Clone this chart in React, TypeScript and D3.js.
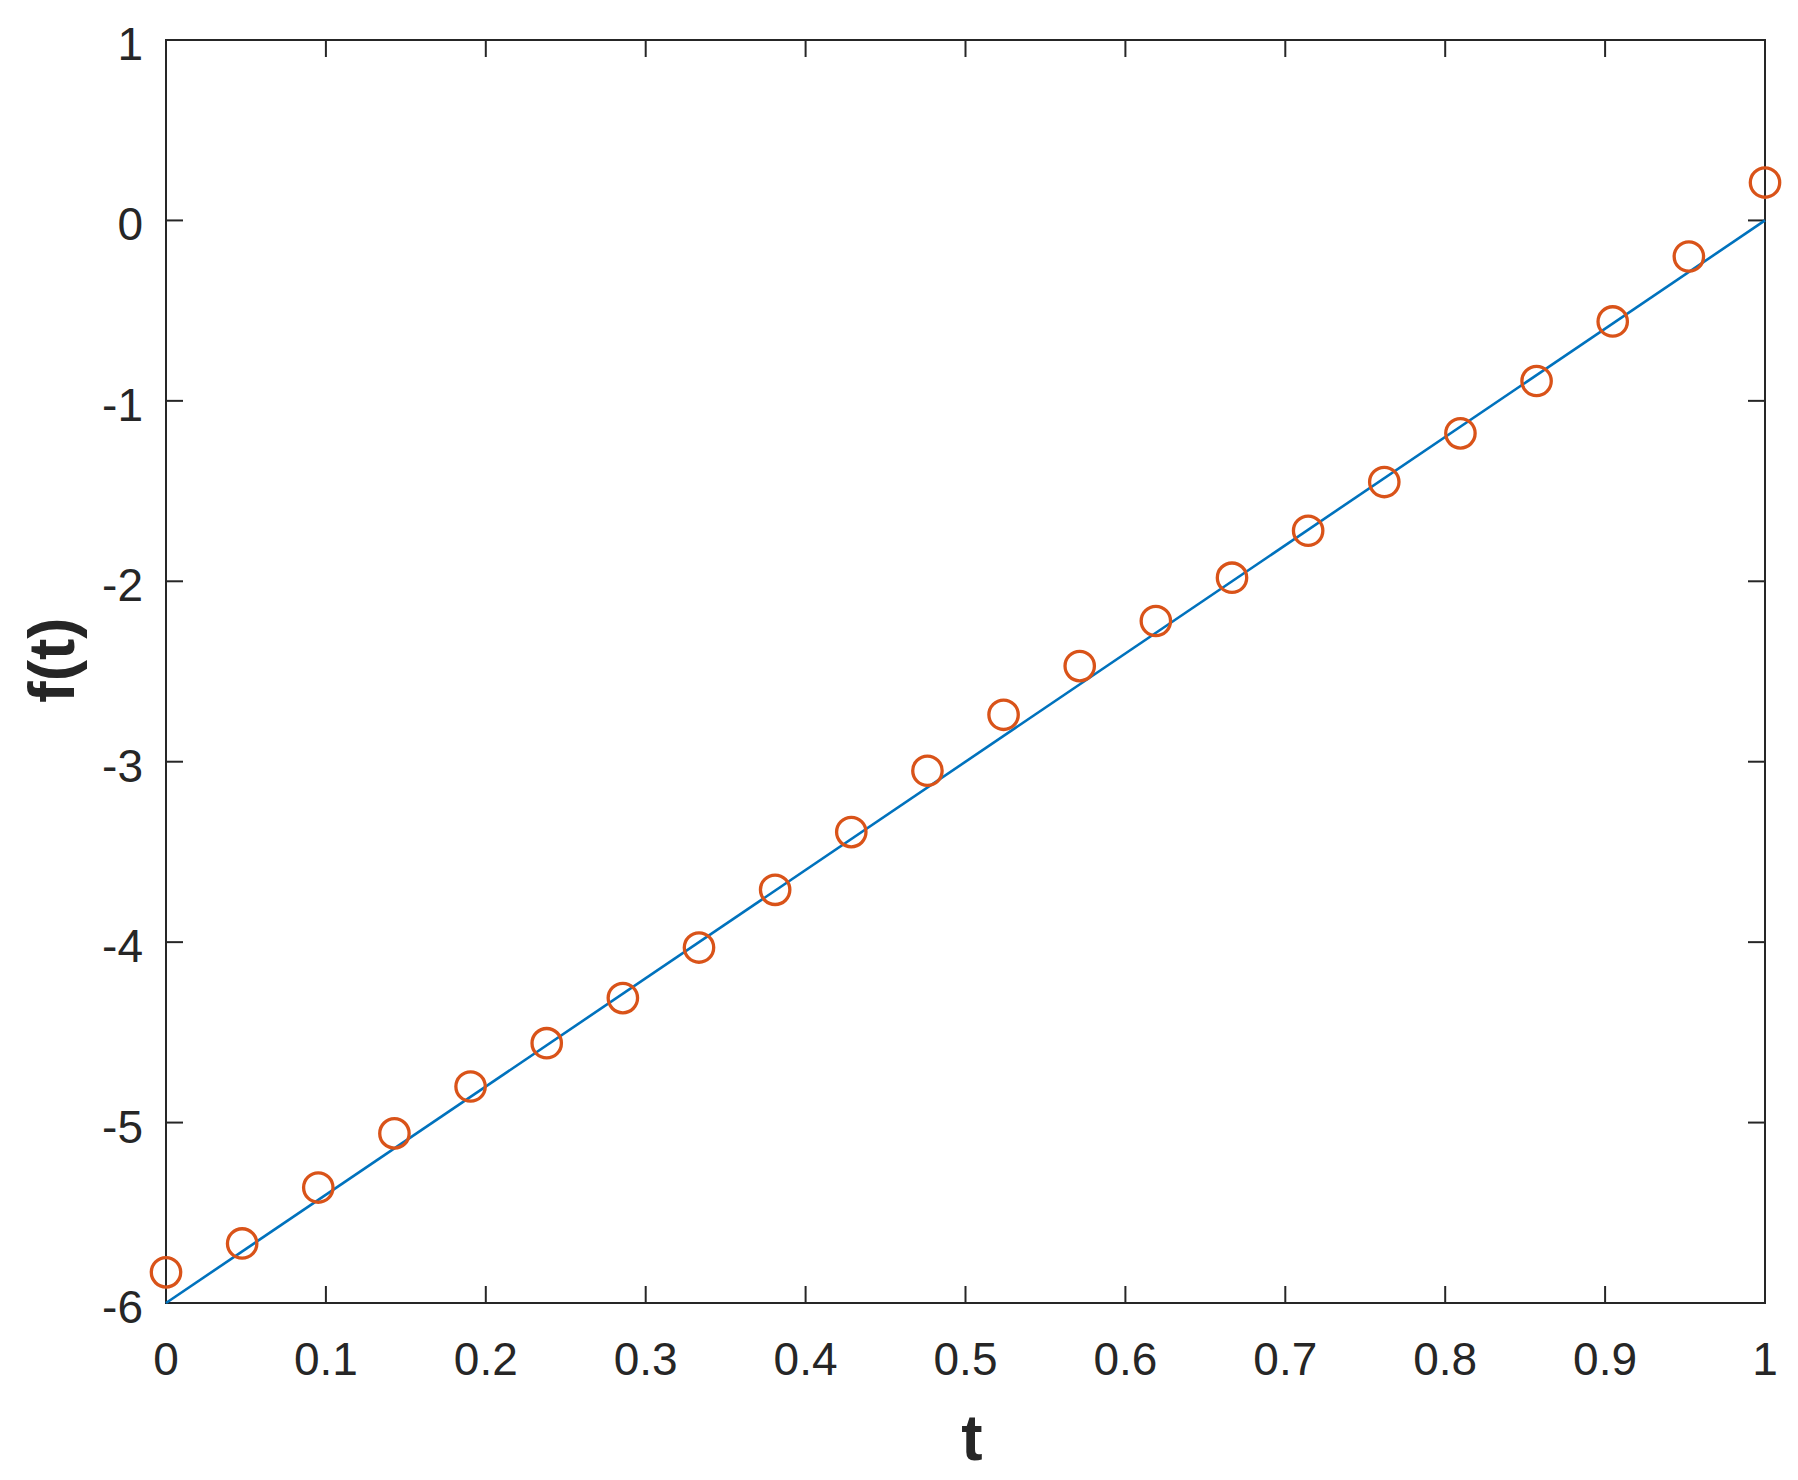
import React from "react";
import * as d3 from "d3";

const sampleT: number[] = d3.range(22).map((i) => i / 21);
const sampleF: number[] = [
  -5.83, -5.67, -5.36, -5.06, -4.8, -4.56, -4.31, -4.03, -3.71, -3.39, -3.05,
  -2.74, -2.47, -2.22, -1.98, -1.72, -1.45, -1.18, -0.89, -0.56, -0.2, 0.21,
];
const lineT: number[] = [0, 1];
const lineF: number[] = [-6, 0];
const xTicks: number[] = [0, 0.1, 0.2, 0.3, 0.4, 0.5, 0.6, 0.7, 0.8, 0.9, 1];
const yTicks: number[] = [1, 0, -1, -2, -3, -4, -5, -6];

const W = 1798;
const H = 1480;
const L = 166;
const R = 1765;
const T = 40;
const B = 1303;
const AX = "#262626";
const FONT = "'Liberation Sans', Arial, Helvetica, sans-serif";

export default function App() {
  const x = d3.scaleLinear().domain([0, 1]).range([L, R]);
  const y = d3.scaleLinear().domain([-6, 1]).range([B, T]);
  const line = d3
    .line<number>()
    .x((_, i) => x(lineT[i]))
    .y((d) => y(d));
  const tl = 17;
  return (
    <svg
      width={W}
      height={H}
      style={{ position: "absolute", left: 0, top: 0, background: "#fff" }}
    >
      <rect x={0} y={0} width={W} height={H} fill="#fff" />
      {/* ticks */}
      <g stroke={AX} strokeWidth={2}>
        {xTicks.map((t) => (
          <g key={"xt" + t}>
            <line x1={x(t)} x2={x(t)} y1={B} y2={B - tl} />
            <line x1={x(t)} x2={x(t)} y1={T} y2={T + tl} />
          </g>
        ))}
        {yTicks.map((t) => (
          <g key={"yt" + t}>
            <line x1={L} x2={L + tl} y1={y(t)} y2={y(t)} />
            <line x1={R} x2={R - tl} y1={y(t)} y2={y(t)} />
          </g>
        ))}
      </g>
      <rect
        x={L}
        y={T}
        width={R - L}
        height={B - T}
        fill="none"
        stroke={AX}
        strokeWidth={2}
      />
      {/* tick labels */}
      <g fontFamily={FONT} fontSize={46} fill={AX}>
        {xTicks.map((t) => (
          <text key={"xl" + t} x={x(t)} y={B + 72} textAnchor="middle">
            {String(t)}
          </text>
        ))}
        {yTicks.map((t) => (
          <text key={"yl" + t} x={L - 23} y={y(t) + 20} textAnchor="end">
            {String(t)}
          </text>
        ))}
      </g>
      {/* axis labels */}
      <text
        x={972}
        y={1460}
        textAnchor="middle"
        fontFamily={FONT}
        fontWeight="bold"
        fontSize={64}
        fill={AX}
      >
        t
      </text>
      <text
        transform={`translate(74, 660) rotate(-90)`}
        textAnchor="middle"
        fontFamily={FONT}
        fontWeight="bold"
        fontSize={64}
        fill={AX}
      >
        f(t)
      </text>
      {/* line */}
      <path
        d={line(lineF) || ""}
        fill="none"
        stroke="#0072BD"
        strokeWidth={2.6}
      />
      {/* markers */}
      <g fill="none" stroke="#D95319" strokeWidth={3.3}>
        {sampleF.map((f, i) => (
          <circle key={"c" + i} cx={x(sampleT[i])} cy={y(f)} r={14.7} />
        ))}
      </g>
    </svg>
  );
}
